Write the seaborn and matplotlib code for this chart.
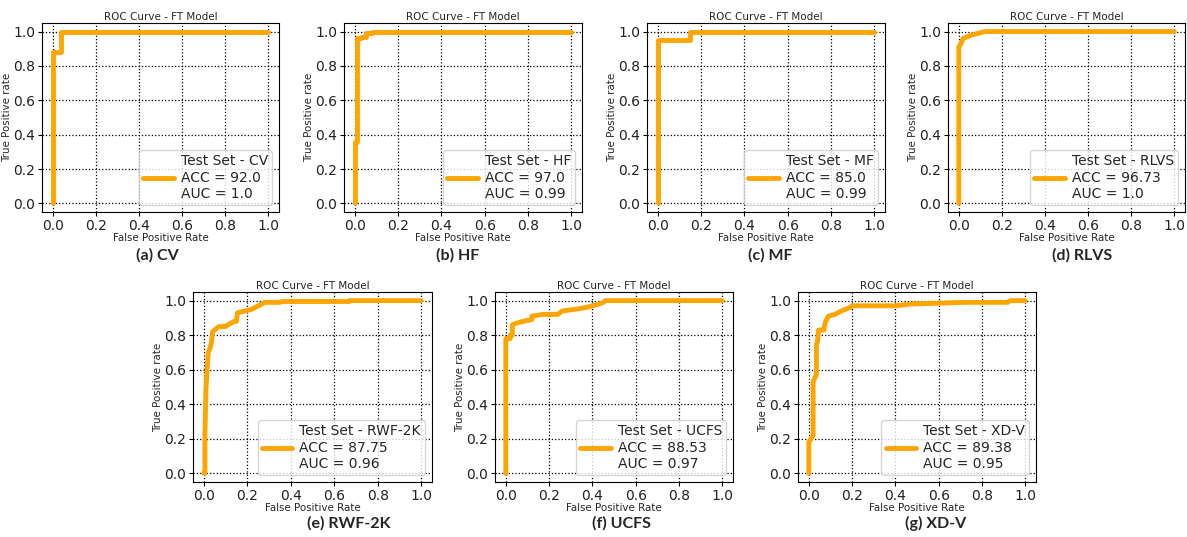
import matplotlib
matplotlib.use("Agg")
import matplotlib.pyplot as plt
import seaborn as sns
import pandas as pd

# ROC curve points
cv_fpr = [0.0, 0.0, 0.04, 0.04, 1.0]
cv_tpr = [0.0, 0.88, 0.88, 1.0, 1.0]

hf_fpr = [0.0, 0.0, 0.01, 0.01, 0.03, 0.03, 0.05, 0.05, 0.08, 0.08, 1.0]
hf_tpr = [0.0, 0.36, 0.36, 0.96, 0.96, 0.97, 0.97, 0.99, 0.99, 1.0, 1.0]

mf_fpr = [0.0, 0.0, 0.15, 0.15, 1.0]
mf_tpr = [0.0, 0.95, 0.95, 1.0, 1.0]

rlvs_fpr = [0.0, 0.0, 0.01, 0.02, 0.04, 0.06, 0.09, 0.12, 1.0]
rlvs_tpr = [0.0, 0.91, 0.93, 0.96, 0.97, 0.98, 0.99, 1.0, 1.0]

rwf_fpr = [0.0, 0.005, 0.005, 0.01, 0.015, 0.02, 0.03, 0.035, 0.04, 0.06, 0.07,
           0.10, 0.11, 0.14, 0.15, 0.155, 0.19, 0.22, 0.25, 0.28, 0.35, 0.36,
           0.67, 0.67, 1.0]
rwf_tpr = [0.0, 0.0, 0.23, 0.50, 0.60, 0.70, 0.73, 0.76, 0.82, 0.84, 0.85,
           0.85, 0.86, 0.88, 0.88, 0.93, 0.94, 0.95, 0.97, 0.99, 0.99, 0.995,
           0.995, 1.0, 1.0]

ucfs_fpr = [0.0, 0.0, 0.02, 0.02, 0.03, 0.03, 0.05, 0.08, 0.12, 0.12, 0.17,
            0.24, 0.26, 0.32, 0.37, 0.40, 0.43, 0.45, 0.46, 1.0]
ucfs_tpr = [0.0, 0.78, 0.78, 0.80, 0.80, 0.86, 0.87, 0.88, 0.89, 0.91, 0.92,
            0.92, 0.94, 0.95, 0.96, 0.97, 0.98, 0.99, 1.0, 1.0]

xdv_fpr = [0.0, 0.0, 0.01, 0.02, 0.02, 0.03, 0.035, 0.035, 0.04, 0.045, 0.07,
           0.075, 0.09, 0.12, 0.15, 0.19, 0.20, 0.40, 0.47, 0.72, 0.92, 0.93, 1.0]
xdv_tpr = [0.0, 0.18, 0.20, 0.22, 0.53, 0.56, 0.57, 0.75, 0.76, 0.83, 0.83,
           0.87, 0.91, 0.92, 0.94, 0.96, 0.97, 0.97, 0.98, 0.99, 0.99, 1.0, 1.0]

names = ["CV", "HF", "MF", "RLVS", "RWF-2K", "UCFS", "XD-V"]
letters = ["a", "b", "c", "d", "e", "f", "g"]
acc = ["92.0", "97.0", "85.0", "96.73", "87.75", "88.53", "89.38"]
auc = ["1.0", "0.99", "0.99", "1.0", "0.96", "0.97", "0.95"]
curves = [(cv_fpr, cv_tpr), (hf_fpr, hf_tpr), (mf_fpr, mf_tpr), (rlvs_fpr, rlvs_tpr),
          (rwf_fpr, rwf_tpr), (ucfs_fpr, ucfs_tpr), (xdv_fpr, xdv_tpr)]

W, H = 1187, 537
# axes boxes in pixels: left, top, width, height
boxes = [(42, 23, 237, 189), (344, 23, 238, 189), (647, 23, 238, 189), (948, 23, 237, 189),
         (193, 292, 239, 190), (495, 292, 238, 190), (798, 292, 238, 190)]
# caption centres in pixels
captions = [(157, 255), (458, 255), (770, 255), (1082, 255),
            (349, 523), (622, 523), (936, 523)]

sns.set_style("white")
plt.rcParams["font.family"] = ["DejaVu Sans"]
fig = plt.figure(figsize=(W / 100, H / 100), dpi=100)

for i, name in enumerate(names):
    l, t, w, h = boxes[i]
    ax = fig.add_axes([l / W, 1 - (t + h) / H, w / W, h / H])
    df = pd.DataFrame({"fpr": curves[i][0], "tpr": curves[i][1]})
    lab = f"Test Set - {name}\nACC = {acc[i]}\nAUC = {auc[i]}"
    sns.lineplot(data=df, x="fpr", y="tpr", estimator=None, sort=False, ax=ax,
                 color="orange", linewidth=3.5, label=lab)
    ax.set_xlim(-0.05, 1.05)
    ax.set_ylim(-0.05, 1.05)
    ax.set_xticks([0, 0.2, 0.4, 0.6, 0.8, 1.0])
    ax.set_yticks([0, 0.2, 0.4, 0.6, 0.8, 1.0])
    ax.grid(True, color="black", linestyle=":", linewidth=0.9)
    ax.tick_params(labelsize=10, length=3, width=0.8, direction="out", left=True,
                   bottom=True, pad=2, colors="black", labelcolor="#222222")
    for s in ax.spines.values():
        s.set_color("black")
        s.set_linewidth(0.8)
    ax.set_title("ROC Curve - FT Model", fontsize=7.5, pad=2)
    ax.set_xlabel("False Positive Rate", fontsize=7.4, labelpad=0)
    ax.set_ylabel("True Positive rate", fontsize=7.4, labelpad=1)
    ax.legend(loc="lower right", fontsize=10, handlelength=2.2, labelspacing=0.1,
              borderpad=0.3, handletextpad=0.5, framealpha=0.8, edgecolor="#cccccc")
    cx, cy = captions[i]
    fig.text(cx / W, 1 - cy / H, f"({letters[i]}) {name}", ha="center", va="center",
             fontsize=11.5, fontweight="bold", family=["Lato", "DejaVu Sans"])

fig.savefig("out.png", dpi=100)
